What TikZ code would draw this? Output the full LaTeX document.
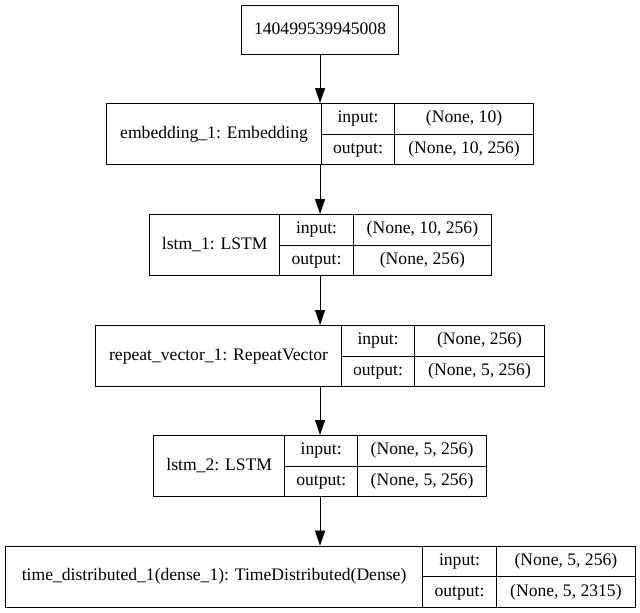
\documentclass[tikz,border=0pt]{standalone}
\usepackage{fontspec}
\setmainfont{Liberation Serif}
\usetikzlibrary{arrows.meta}
\tikzset{
  boxline/.style={draw=black, line width=1.1pt},
  outerbox/.style={boxline, inner sep=0pt, minimum height=61pt},
  cellbox/.style={boxline, inner sep=0pt, text height=12pt, text depth=4pt,
    font=\fontsize{17.6}{20}\selectfont},
  conn/.style={line width=1.1pt, -{Triangle[length=15pt,width=10pt]}}
}
% #1 id, #2 top, #3 left, #4 d1, #5 d2, #6 right, #7 title, #8 input, #9 output
\newcommand\klayer[9]{%
  \node[outerbox, minimum width={#6-#3}, anchor=north west] (#1) at (#3,#2) {};
  \node[cellbox, minimum width={#4-#3}, minimum height=61pt, anchor=north west] (#1-title) at (#3,#2) {#7};
  \node[cellbox, minimum width={#5-#4}, minimum height=30.5pt, anchor=north west] (#1-inl) at (#4,#2) {input:};
  \node[cellbox, minimum width={#5-#4}, minimum height=30.5pt, anchor=north west] (#1-outl) at ({#4},{#2+30.5}) {output:};
  \node[cellbox, minimum width={#6-#5}, minimum height=30.5pt, anchor=north west] (#1-inv) at (#5,#2) {#8};
  \node[cellbox, minimum width={#6-#5}, minimum height=30.5pt, anchor=north west] (#1-outv) at ({#5},{#2+30.5}) {#9};
}
\begin{document}
\begin{tikzpicture}[x=1pt, y=-1pt]
\useasboundingbox (0,0) rectangle (640,613);
\node[cellbox, minimum width=157pt, minimum height=49pt, anchor=north west] (L0) at (241,5) {140499539945008};
\klayer{L1}{103}{106}{321}{394}{533}{embedding\_1: Embedding}{(None, 10)}{(None, 10, 256)}
\klayer{L2}{214}{149}{279.3}{352.7}{491}{lstm\_1: LSTM}{(None, 10, 256)}{(None, 256)}
\klayer{L3}{325}{95}{341}{414}{544}{repeat\_vector\_1: RepeatVector}{(None, 256)}{(None, 5, 256)}
\klayer{L4}{435}{153.3}{284}{357.3}{485.7}{lstm\_2: LSTM}{(None, 5, 256)}{(None, 5, 256)}
\klayer{L5}{545.7}{4.7}{422.3}{495.7}{635}{time\_distributed\_1(dense\_1): TimeDistributed(Dense)}{(None, 5, 256)}{(None, 5, 2315)}
\draw[conn] (L0.south) -- (L0.south |- L1.north);
\draw[conn] (L0.south |- L1.south) -- (L0.south |- L2.north);
\draw[conn] (L0.south |- L2.south) -- (L0.south |- L3.north);
\draw[conn] (L0.south |- L3.south) -- (L0.south |- L4.north);
\draw[conn] (L0.south |- L4.south) -- (L0.south |- L5.north);
\end{tikzpicture}
\end{document}
